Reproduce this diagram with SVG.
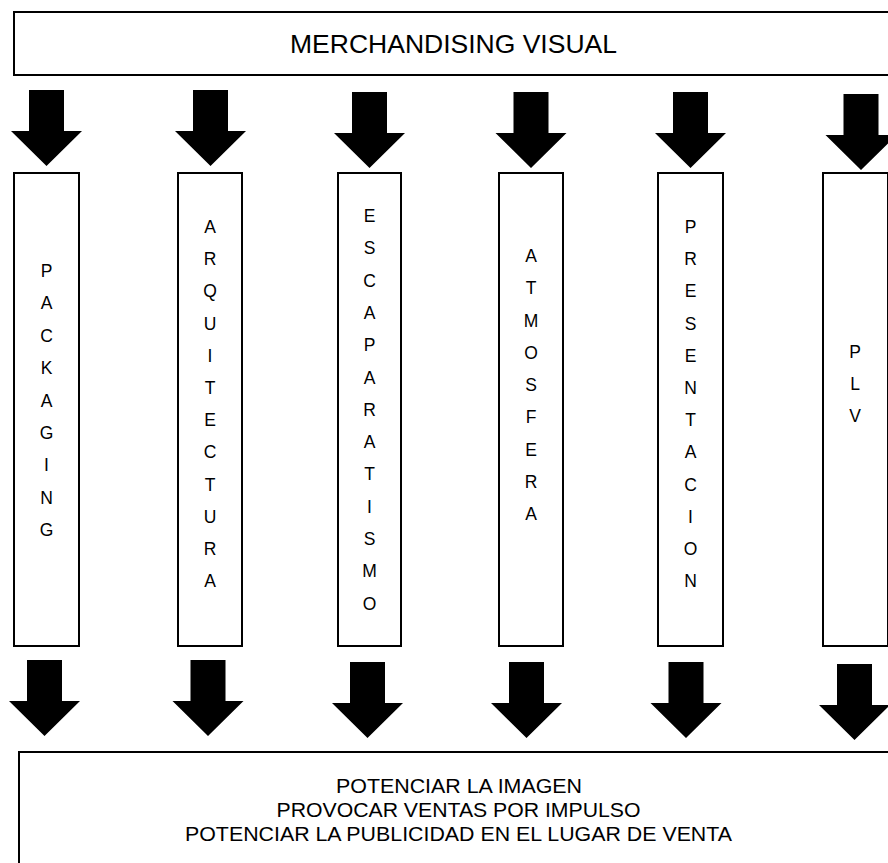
<svg xmlns="http://www.w3.org/2000/svg" xmlns:xlink="http://www.w3.org/1999/xlink" width="888" height="863" viewBox="0 0 888 863">
<style>
.box{fill:#fff;stroke:#000;stroke-width:2}
.t{font-family:"Liberation Sans",Arial,sans-serif;fill:#000;text-anchor:middle}
.v{font-size:17.5px}
.b{font-size:21px}
.arr{fill:#000}
</style>
<defs>
<path id="arrow" d="M-17.5,0 H17.5 V41 H35.5 L0,76 L-35.5,41 H-17.5 Z"/>
</defs>
<rect width="888" height="863" fill="#fff"/>
<g id="top">
<rect class="box" x="14" y="12" width="882" height="63"/>
<text class="t" x="453.5" y="53" font-size="26.5">MERCHANDISING VISUAL</text>
</g>
<g id="connectors" class="arr">
<use xlink:href="#arrow" x="46.5" y="90"/>
<use xlink:href="#arrow" x="210.5" y="90"/>
<use xlink:href="#arrow" x="369.5" y="92"/>
<use xlink:href="#arrow" x="531" y="92"/>
<use xlink:href="#arrow" x="690.5" y="92"/>
<use xlink:href="#arrow" x="861" y="94"/>
<use xlink:href="#arrow" x="44.5" y="660"/>
<use xlink:href="#arrow" x="208" y="660"/>
<use xlink:href="#arrow" x="367.5" y="662"/>
<use xlink:href="#arrow" x="526.5" y="662"/>
<use xlink:href="#arrow" x="686" y="662"/>
<use xlink:href="#arrow" x="854.5" y="664"/>
</g>
<g id="packaging">
<rect class="box" x="14" y="173" width="65" height="473"/>
<text class="t v" x="46.5" y="277"><tspan x="46.5">P</tspan><tspan x="46.5" dy="32.4">A</tspan><tspan x="46.5" dy="32.4">C</tspan><tspan x="46.5" dy="32.4">K</tspan><tspan x="46.5" dy="32.4">A</tspan><tspan x="46.5" dy="32.4">G</tspan><tspan x="46.5" dy="32.4">I</tspan><tspan x="46.5" dy="32.4">N</tspan><tspan x="46.5" dy="32.4">G</tspan></text>
</g>
<g id="arquitectura">
<rect class="box" x="178" y="173" width="64" height="473"/>
<text class="t v" x="210" y="233"><tspan x="210">A</tspan><tspan x="210" dy="32.2">R</tspan><tspan x="210" dy="32.2">Q</tspan><tspan x="210" dy="32.2">U</tspan><tspan x="210" dy="32.2">I</tspan><tspan x="210" dy="32.2">T</tspan><tspan x="210" dy="32.2">E</tspan><tspan x="210" dy="32.2">C</tspan><tspan x="210" dy="32.2">T</tspan><tspan x="210" dy="32.2">U</tspan><tspan x="210" dy="32.2">R</tspan><tspan x="210" dy="32.2">A</tspan></text>
</g>
<g id="escaparatismo">
<rect class="box" x="338" y="173" width="63" height="473"/>
<text class="t v" x="369.5" y="222"><tspan x="369.5">E</tspan><tspan x="369.5" dy="32.3">S</tspan><tspan x="369.5" dy="32.3">C</tspan><tspan x="369.5" dy="32.3">A</tspan><tspan x="369.5" dy="32.3">P</tspan><tspan x="369.5" dy="32.3">A</tspan><tspan x="369.5" dy="32.3">R</tspan><tspan x="369.5" dy="32.3">A</tspan><tspan x="369.5" dy="32.3">T</tspan><tspan x="369.5" dy="32.3">I</tspan><tspan x="369.5" dy="32.3">S</tspan><tspan x="369.5" dy="32.3">M</tspan><tspan x="369.5" dy="32.3">O</tspan></text>
</g>
<g id="atmosfera">
<rect class="box" x="499" y="173" width="64" height="473"/>
<text class="t v" x="531" y="262"><tspan x="531">A</tspan><tspan x="531" dy="32.25">T</tspan><tspan x="531" dy="32.25">M</tspan><tspan x="531" dy="32.25">O</tspan><tspan x="531" dy="32.25">S</tspan><tspan x="531" dy="32.25">F</tspan><tspan x="531" dy="32.25">E</tspan><tspan x="531" dy="32.25">R</tspan><tspan x="531" dy="32.25">A</tspan></text>
</g>
<g id="presentacion">
<rect class="box" x="658" y="173" width="65" height="473"/>
<text class="t v" x="690.5" y="233"><tspan x="690.5">P</tspan><tspan x="690.5" dy="32.2">R</tspan><tspan x="690.5" dy="32.2">E</tspan><tspan x="690.5" dy="32.2">S</tspan><tspan x="690.5" dy="32.2">E</tspan><tspan x="690.5" dy="32.2">N</tspan><tspan x="690.5" dy="32.2">T</tspan><tspan x="690.5" dy="32.2">A</tspan><tspan x="690.5" dy="32.2">C</tspan><tspan x="690.5" dy="32.2">I</tspan><tspan x="690.5" dy="32.2">O</tspan><tspan x="690.5" dy="32.2">N</tspan></text>
</g>
<g id="plv">
<rect class="box" x="823" y="173" width="65" height="473"/>
<text class="t v" x="855" y="358"><tspan x="855">P</tspan><tspan x="855" dy="32.2">L</tspan><tspan x="855" dy="32.2">V</tspan></text>
</g>
<g id="bottom">
<rect class="box" x="19" y="752" width="882" height="130"/>
<text class="t b" x="459" y="793" textLength="246" lengthAdjust="spacingAndGlyphs">POTENCIAR LA IMAGEN</text>
<text class="t b" x="458.5" y="817" textLength="364" lengthAdjust="spacingAndGlyphs">PROVOCAR VENTAS POR IMPULSO</text>
<text class="t b" x="458.5" y="841" textLength="547" lengthAdjust="spacingAndGlyphs">POTENCIAR LA PUBLICIDAD EN EL LUGAR DE VENTA</text>
</g>
</svg>
